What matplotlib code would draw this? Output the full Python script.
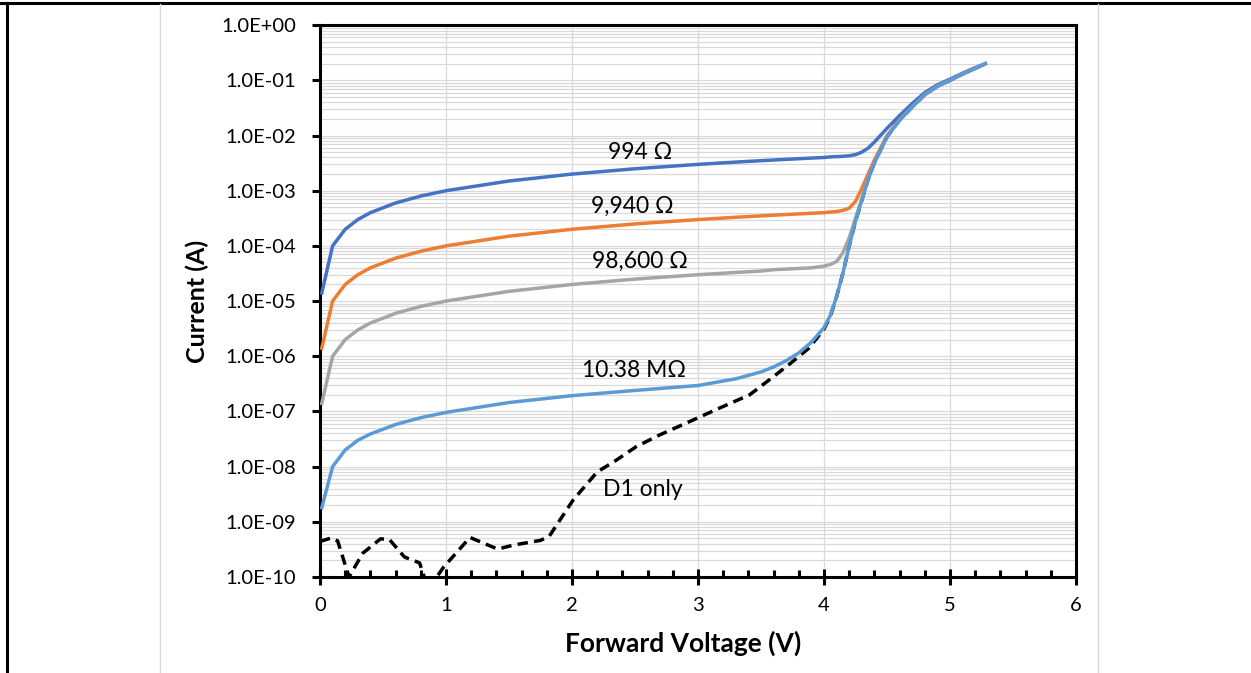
import matplotlib.pyplot as plt
import numpy as np
from matplotlib.lines import Line2D
from matplotlib.ticker import FuncFormatter, LogLocator, MultipleLocator

plt.rcParams['font.family'] = ['Lato', 'DejaVu Sans']

# voltage points shared by the four resistor curves
v_res = [0.014, 0.1, 0.2, 0.3, 0.4, 0.6, 0.8, 1.0, 1.5, 2.0, 2.5, 3.0, 3.3, 3.5,
         3.6, 3.7, 3.8, 3.9, 4.0, 4.05, 4.1, 4.15, 4.2, 4.25, 4.3, 4.35, 4.4,
         4.5, 4.6, 4.7, 4.8, 4.9, 5.0, 5.1, 5.2, 5.28]

i_994 = [1.4e-5, 1.0e-4, 2.0e-4, 3.0e-4, 4.0e-4, 6.0e-4, 8.0e-4, 1.0e-3, 1.5e-3,
         2.0e-3, 2.5e-3, 3.0e-3, 3.3e-3, 3.5e-3, 3.6e-3, 3.7e-3, 3.8e-3, 3.9e-3,
         4.0e-3, 4.1e-3, 4.15e-3, 4.2e-3, 4.3e-3, 4.5e-3, 5.0e-3, 5.9e-3, 7.6e-3,
         1.35e-2, 2.3e-2, 3.8e-2, 6.0e-2, 8.3e-2, 0.105, 0.135, 0.17, 0.20]

i_9940 = [1.4e-6, 1.0e-5, 2.0e-5, 3.0e-5, 4.0e-5, 6.0e-5, 8.0e-5, 1.0e-4, 1.5e-4,
          2.0e-4, 2.5e-4, 3.0e-4, 3.3e-4, 3.5e-4, 3.6e-4, 3.7e-4, 3.8e-4, 3.9e-4,
          4.0e-4, 4.1e-4, 4.2e-4, 4.4e-4, 4.8e-4, 6.4e-4, 1.1e-3, 2.0e-3, 3.6e-3,
          1.0e-2, 1.95e-2, 3.3e-2, 5.5e-2, 7.8e-2, 0.10, 0.13, 0.165, 0.20]

i_98600 = [1.4e-7, 1.0e-6, 2.0e-6, 3.0e-6, 4.0e-6, 6.0e-6, 8.0e-6, 1.0e-5, 1.5e-5,
           2.0e-5, 2.5e-5, 3.0e-5, 3.3e-5, 3.5e-5, 3.7e-5, 3.8e-5, 3.9e-5, 4.0e-5,
           4.3e-5, 4.6e-5, 5.2e-5, 7.5e-5, 1.4e-4, 3.2e-4, 7.1e-4, 1.65e-3, 3.2e-3,
           9.5e-3, 1.9e-2, 3.3e-2, 5.5e-2, 7.8e-2, 0.10, 0.13, 0.165, 0.20]

i_10m = [1.8e-9, 1.0e-8, 2.0e-8, 3.0e-8, 3.9e-8, 5.8e-8, 7.7e-8, 9.6e-8, 1.45e-7,
         1.93e-7, 2.4e-7, 2.95e-7, 3.9e-7, 5.2e-7, 6.4e-7, 8.3e-7, 1.15e-6, 1.8e-6,
         3.3e-6, 5.5e-6, 1.2e-5, 3.2e-5, 1.0e-4, 2.8e-4, 6.7e-4, 1.6e-3, 3.2e-3,
         9.5e-3, 1.9e-2, 3.3e-2, 5.5e-2, 7.8e-2, 0.10, 0.13, 0.165, 0.20]

# diode alone (D1 only)
v_d1 = [0.0, 0.09, 0.14, 0.23, 0.34, 0.48, 0.55, 0.67, 0.79, 0.86, 0.98, 1.19,
        1.41, 1.54, 1.75, 1.82, 2.01, 2.2, 2.35, 2.51, 2.69, 2.93, 3.14, 3.41,
        3.57, 3.72, 3.88, 4.0, 4.05, 4.1, 4.15, 4.2, 4.25, 4.3, 4.35, 4.4, 4.5,
        4.6, 4.7, 4.8, 4.9, 5.0, 5.1, 5.2, 5.28]
i_d1 = [4.4e-10, 5.1e-10, 4.5e-10, 1.0e-10, 2.7e-10, 4.9e-10, 4.8e-10, 2.3e-10,
        1.8e-10, 6.0e-11, 1.5e-10, 5.2e-10, 3.2e-10, 3.8e-10, 4.6e-10, 5.5e-10,
        2.5e-9, 8.0e-9, 1.3e-8, 2.3e-8, 3.7e-8, 6.5e-8, 1.07e-7, 2.0e-7, 3.8e-7,
        7.0e-7, 1.4e-6, 3.1e-6, 5.3e-6, 1.2e-5, 3.2e-5, 1.0e-4, 2.8e-4, 6.7e-4,
        1.6e-3, 3.2e-3, 9.5e-3, 1.9e-2, 3.3e-2, 5.5e-2, 7.8e-2, 0.10, 0.13, 0.165, 0.20]

labels = ['994 Ω', '9,940 Ω', '98,600 Ω', '10.38 MΩ', 'D1 only']

fig = plt.figure(figsize=(12.51, 6.73), dpi=100)
ax = fig.add_axes([0.2558, 0.1427, 0.6043, 0.8199])

ax.plot(v_d1, i_d1, color='black', lw=2.5, dashes=(3, 1.8), zorder=3)
ax.plot(v_res, i_994, color='#4472C4', lw=2.5, zorder=4)
ax.plot(v_res, i_9940, color='#ED7D31', lw=2.5, zorder=4)
ax.plot(v_res, i_98600, color='#A5A5A5', lw=2.5, zorder=4)
ax.plot(v_res, i_10m, color='#5B9BD5', lw=2.5, zorder=5)

ax.set_yscale('log')
ax.set_xlim(0, 6)
ax.set_ylim(1e-10, 1)

ax.xaxis.set_major_locator(MultipleLocator(1))
ax.xaxis.set_minor_locator(MultipleLocator(0.2))
ax.yaxis.set_major_locator(LogLocator(base=10, numticks=20))
ax.yaxis.set_minor_locator(LogLocator(base=10, subs=np.arange(2, 10), numticks=20))
ax.yaxis.set_major_formatter(FuncFormatter(lambda y, p: f'{y:.1E}'))
ax.yaxis.set_minor_formatter(FuncFormatter(lambda y, p: ''))

ax.grid(True, which='major', axis='x', color='#D9D9D9', lw=0.9)
ax.grid(True, which='both', axis='y', color='#D9D9D9', lw=0.9)
ax.set_axisbelow(True)

for s in ax.spines.values():
    s.set_linewidth(2.2)
    s.set_color('black')

ax.tick_params(axis='y', which='major', direction='out', length=6, width=2.2,
               labelsize=14.5, pad=11)
ax.tick_params(axis='y', which='minor', length=0)
ax.tick_params(axis='x', which='major', direction='inout', length=11, width=2.2,
               labelsize=14.5, pad=9)
ax.tick_params(axis='x', which='minor', direction='in', length=5, width=2.2)

ax.set_xlabel('Forward Voltage (V)', fontsize=19, fontweight='bold')
ax.set_ylabel('Current (A)', fontsize=18, fontweight='bold', labelpad=9)
ax.xaxis.set_label_coords(0.48, -0.098)

# curve labels
ax.text(2.54, 5.0e-3, labels[0], fontsize=16.5, ha='center', va='center')
ax.text(2.48, 5.3e-4, labels[1], fontsize=16.5, ha='center', va='center')
ax.text(2.54, 5.3e-5, labels[2], fontsize=16.5, ha='center', va='center')
ax.text(2.49, 5.6e-7, labels[3], fontsize=16.5, ha='center', va='center')
ax.text(2.56, 3.8e-9, labels[4], fontsize=16.5, ha='center', va='center')

# screenshot frame
W, H = 1251, 673
fig.add_artist(Line2D([0, 1], [1 - 3 / H, 1 - 3 / H], color='black', lw=2.2))
fig.add_artist(Line2D([7 / W, 7 / W], [0, 1 - 3 / H], color='black', lw=2.2))
fig.add_artist(Line2D([160 / W, 160 / W], [0, 1 - 4 / H], color='#D9D9D9', lw=1))
fig.add_artist(Line2D([1098 / W, 1098 / W], [0, 1 - 4 / H], color='#D9D9D9', lw=1))

fig.savefig('out.png', dpi=100)
